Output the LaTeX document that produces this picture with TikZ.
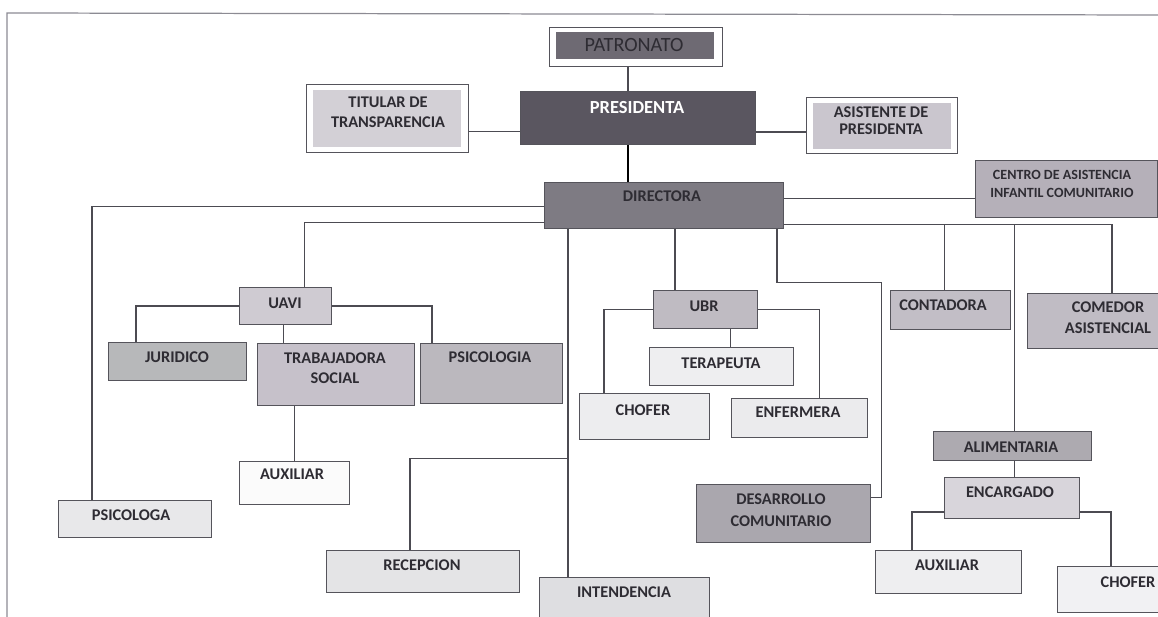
\documentclass[tikz,border=0pt]{standalone}
\usepackage{fontspec}
\setmainfont{Carlito}
\usetikzlibrary{calc}

\definecolor{ink}{HTML}{2E2C33}
\definecolor{edgegray}{HTML}{55545B}
\definecolor{linegray}{HTML}{4C4B52}
\definecolor{framegray}{HTML}{8C8B93}
\definecolor{patfill}{HTML}{6E6A73}
\definecolor{presfill}{HTML}{5A5660}
\definecolor{dirfill}{HTML}{7E7B83}
\definecolor{titfill}{HTML}{D3D0D6}
\definecolor{asisfill}{HTML}{CAC6CE}
\definecolor{caifill}{HTML}{B5B0B9}

\tikzset{
  box/.style={draw=edgegray, line width=0.6pt, anchor=north west, inner sep=0pt},
  txt/.style={font=\bfseries\fontsize{9.3}{11.5}\selectfont, text=ink, align=center, inner sep=0pt},
  link/.style={draw=linegray, line width=0.6pt},
}

\begin{document}
\begin{tikzpicture}[x=0.02cm, y=-0.02cm]
        \useasboundingbox (0,0) rectangle (1158,617);

        % Page frame (top and left edge)
        \draw [framegray, line width=0.7pt] (7,617) -- (7,13) -- (1158,15);

        % Top level
        \node [box, fill=white, minimum width=3.46cm, minimum height=0.78cm] (pat) at (549,27) {};
        \fill [patfill] ($(pat.north west)+(7,5)$) rectangle ($(pat.south east)+(-9,-8)$);
        \node [box, fill=presfill, minimum width=4.70cm, minimum height=1.06cm] (pres) at (520,91) {};
        \node [box, fill=white, minimum width=3.24cm, minimum height=1.36cm] (tit) at (306,84) {};
        \fill [titfill] ($(tit.north west)+(7,6)$) rectangle ($(tit.south east)+(-8,-6)$);
        \node [box, fill=white, minimum width=3.02cm, minimum height=1.12cm] (asis) at (806,97) {};
        \fill [asisfill] ($(asis.north west)+(7,6)$) rectangle ($(asis.south east)+(-7,-5)$);
        \node [box, fill=dirfill, minimum width=4.78cm, minimum height=0.92cm] (dir) at (544,182) {};
        \node [box, fill=caifill, minimum width=3.64cm, minimum height=1.14cm] (cai) at (975,160) {};

        % UAVI branch
        \node [box, fill={rgb,255:red,207;green,203;blue,210}, minimum width=1.84cm, minimum height=0.74cm] (uavi) at (239,287) {};
        \node [box, fill={rgb,255:red,183;green,184;blue,186}, minimum width=2.76cm, minimum height=0.76cm] (jur) at (108,342) {};
        \node [box, fill={rgb,255:red,198;green,193;blue,202}, minimum width=3.14cm, minimum height=1.24cm] (trab) at (257,343) {};
        \node [box, fill={rgb,255:red,187;green,184;blue,190}, minimum width=2.84cm, minimum height=1.20cm] (psi) at (420,343) {};
        \node [box, fill={rgb,255:red,251;green,251;blue,251}, minimum width=2.20cm, minimum height=0.86cm] (auxl) at (239,461) {};
        \node [box, fill={rgb,255:red,232;green,232;blue,234}, minimum width=3.06cm, minimum height=0.74cm] (psga) at (58,500) {};
        \node [box, fill={rgb,255:red,228;green,228;blue,230}, minimum width=3.86cm, minimum height=0.84cm] (rec) at (326,550) {};
        \node [box, fill={rgb,255:red,222;green,222;blue,225}, minimum width=3.40cm, minimum height=1.20cm] (int) at (539,577) {};

        % UBR branch
        \node [box, fill={rgb,255:red,191;green,187;blue,194}, minimum width=2.08cm, minimum height=0.76cm] (ubr) at (653,290) {};
        \node [box, fill={rgb,255:red,238;green,238;blue,240}, minimum width=2.88cm, minimum height=0.76cm] (ter) at (649,347) {};
        \node [box, fill={rgb,255:red,237;green,237;blue,239}, minimum width=2.60cm, minimum height=0.92cm] (chu) at (579,393) {};
        \node [box, fill={rgb,255:red,235;green,235;blue,237}, minimum width=2.72cm, minimum height=0.78cm] (enf) at (731,398) {};
        \node [box, fill={rgb,255:red,170;green,167;blue,174}, minimum width=3.48cm, minimum height=1.16cm] (des) at (696,484) {};

        % Right side
        \node [box, fill={rgb,255:red,194;green,190;blue,198}, minimum width=2.40cm, minimum height=0.78cm] (con) at (890,290) {};
        \node [box, fill={rgb,255:red,192;green,188;blue,196}, minimum width=3.00cm, minimum height=1.10cm] (com) at (1027,293) {};
        \node [box, fill={rgb,255:red,173;green,170;blue,176}, minimum width=3.16cm, minimum height=0.58cm] (ali) at (933,431) {};
        \node [box, fill={rgb,255:red,216;green,213;blue,219}, minimum width=2.70cm, minimum height=0.82cm] (enc) at (944,477) {};
        \node [box, fill={rgb,255:red,238;green,238;blue,240}, minimum width=2.92cm, minimum height=0.86cm] (auxr) at (875,550) {};
        \node [box, fill={rgb,255:red,241;green,241;blue,243}, minimum width=2.40cm, minimum height=0.92cm] (chr) at (1057,566) {};

        % Labels
        \node [txt, font=\fontsize{11.5}{13}\selectfont] (pat-t) at (634,45) {PATRONATO};
        \node [txt, text=white, font=\bfseries\fontsize{10.5}{12}\selectfont] (pres-t) at (637,108) {PRESIDENTA};
        \node [txt] (tit-t) at (388,112.5) {TITULAR DE\\TRANSPARENCIA};
        \node [txt, font=\bfseries\fontsize{9.3}{9.8}\selectfont] (asis-t) at (881,120.5) {ASISTENTE DE\\PRESIDENTA};
        \node [txt] (dir-t) at (662,196) {DIRECTORA};
        \node [txt, font=\bfseries\fontsize{8}{10.2}\selectfont] (cai-t) at (1062,184) {CENTRO DE ASISTENCIA\\INFANTIL COMUNITARIO};
        \node [txt] (uavi-t) at (285,303) {UAVI};
        \node [txt] (jur-t) at (177,357) {JURIDICO};
        \node [txt] (trab-t) at (335,368) {TRABAJADORA\\SOCIAL};
        \node [txt] (psi-t) at (490,357) {PSICOLOGIA};
        \node [txt] (auxl-t) at (292,474) {AUXILIAR};
        \node [txt] (psga-t) at (131,515) {PSICOLOGA};
        \node [txt] (rec-t) at (422,565) {RECEPCION};
        \node [txt] (int-t) at (624,592) {INTENDENCIA};
        \node [txt] (ubr-t) at (704,306) {UBR};
        \node [txt] (ter-t) at (721,363) {TERAPEUTA};
        \node [txt] (chu-t) at (643,410) {CHOFER};
        \node [txt] (enf-t) at (798,412) {ENFERMERA};
        \node [txt, font=\bfseries\fontsize{9.3}{12.3}\selectfont] (des-t) at (781,510) {DESARROLLO\\COMUNITARIO};
        \node [txt] (con-t) at (943,305) {CONTADORA};
        \node [txt, font=\bfseries\fontsize{9.3}{12}\selectfont] (com-t) at (1108,317.5) {COMEDOR\\ASISTENCIAL};
        \node [txt] (ali-t) at (1011,447) {ALIMENTARIA};
        \node [txt] (enc-t) at (1010,492) {ENCARGADO};
        \node [txt] (auxr-t) at (947,565) {AUXILIAR};
        \node [txt] (chr-t) at (1128,582) {CHOFER};

        % Upper connectors
        \draw [link] ($(pat.south)+(-8,0)$) coordinate (p1) -- (p1 |- pres.north);
        \draw [black, line width=1.6pt] ($(pres.south)+(-10,0)$) coordinate (p2) -- (p2 |- dir.north);
        \draw [link] ($(tit.east)+(0,13)$) coordinate (p3) -- (p3 -| pres.west);
        \draw [link] ($(pres.east)+(0,14)$) coordinate (p4) -- (p4 -| asis.west);
        \draw [link] ($(dir.east)+(0,-7)$) coordinate (p5) -- (p5 -| cai.west);

        % Left side connectors
        \draw [link] ($(dir.west)+(0,1)$) -| ($(psga.north west)+(34,0)$);
        \draw [link] ($(dir.west)+(0,17)$) -| ($(uavi.north)+(19,0)$);
        \draw [link] (uavi.west) -| ($(jur.north west)+(28,0)$);
        \draw [link] (uavi.east) -| ($(psi.north west)+(12,0)$);
        \draw [link] ($(uavi.south)+(-2,0)$) coordinate (p6) -- (p6 |- trab.north);
        \draw [link] (auxl.north) -- (auxl.north |- trab.south);
        \draw [link] ($(dir.south west)+(24,0)$) coordinate (p7) -- (p7 |- int.north);
        \coordinate (jrec) at ($(p7)+(0,229)$);
        \draw [link] (jrec) -| ($(rec.north)+(-13,0)$);

        % UBR connectors
        \draw [link] ($(ubr.north west)+(22,0)$) coordinate (p8) -- (p8 |- dir.south);
        \draw [link] (ubr.west) -| ($(chu.north west)+(25,0)$);
        \draw [link] (ubr.east) -| ($(enf.north east)+(-49,0)$);
        \draw [link] ($(ubr.south)+(25,0)$) coordinate (p9) -- (p9 |- ter.north);
        \draw [link] ($(dir.south east)+(-7,0)$) |- ($(des.east)+(10,-231)$) |- ($(des.east)+(0,-16)$);

        % Right side connectors
        \coordinate (bus) at ($(dir.east)+(0,19)$);
        \draw [link] (bus) -| ($(com.north west)+(85,0)$);
        \draw [link] ($(con.north)+(-6,0)$) coordinate (p10) -- (p10 |- bus);
        \draw [link] ($(ali.north)+(2,0)$) coordinate (p11) -- (p11 |- bus);
        \draw [link] ($(ali.south)+(2,0)$) coordinate (p12) -- (p12 |- enc.north);
        \draw [link] ($(enc.west)+(0,14)$) -| ($(auxr.north west)+(37,0)$);
        \draw [link] ($(enc.east)+(0,14)$) -| ($(chr.north west)+(54,0)$);
    \end{tikzpicture}
\end{document}
